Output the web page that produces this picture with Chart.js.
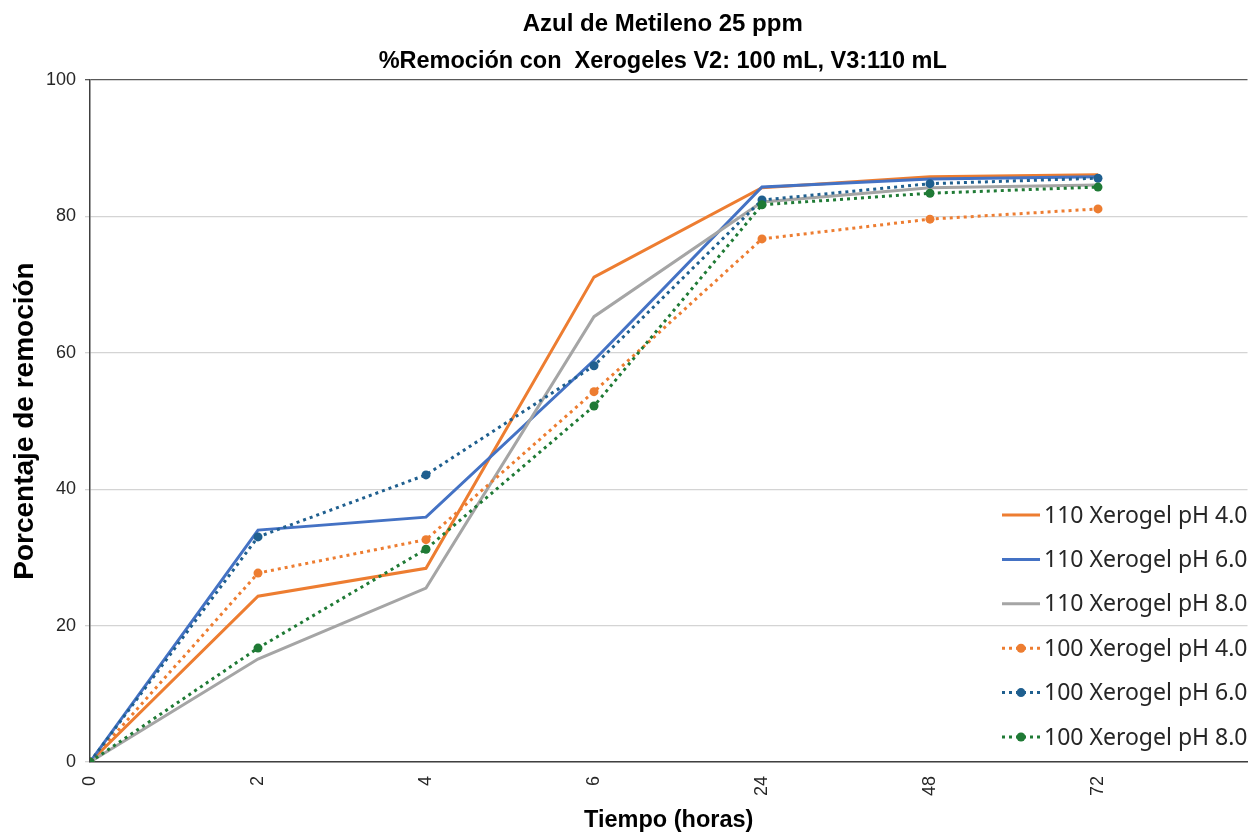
<!DOCTYPE html>
<html><head><meta charset="utf-8">
<script src="https://cdn.jsdelivr.net/npm/chart.js@4.4.0/dist/chart.umd.min.js"></script>
<style>html,body{margin:0;padding:0;background:#fff}#wrap{width:1252px;height:836px;position:relative}</style>
</head><body><div id="wrap"><canvas id="c" width="1252" height="836"></canvas></div>
<script>
const titleLines = ['Azul de Metileno 25 ppm', '%Remoción con  Xerogeles V2: 100 mL, V3:110 mL'];
const xTitle = 'Tiempo (horas)';
const yTitle = 'Porcentaje de remoción';
const timeLabels = ['0', '2', '4', '6', '24', '48', '72'];
const yTickValues = [0, 20, 40, 60, 80, 100];
const seriesNames = ['110 Xerogel pH 4.0', '110 Xerogel pH 6.0', '110 Xerogel pH 8.0', '100 Xerogel pH 4.0', '100 Xerogel pH 6.0', '100 Xerogel pH 8.0'];
const s110pH4 = [0, 24.3, 28.4, 71.1, 84.2, 85.8, 86.1];
const s110pH6 = [0, 34.0, 35.9, 58.9, 84.3, 85.5, 85.8];
const s110pH8 = [0, 15.1, 25.5, 65.3, 82.1, 84.2, 84.6];
const s100pH4 = [0, 27.7, 32.6, 54.3, 76.7, 79.6, 81.1];
const s100pH6 = [0, 33.0, 42.1, 58.1, 82.4, 84.8, 85.6];
const s100pH8 = [0, 16.7, 31.2, 52.2, 81.7, 83.4, 84.3];

const colors = ['#ED7D31', '#4472C4', '#A5A5A5', '#ED7D31', '#1F5F8F', '#1F7A35'];
const allSeries = [s110pH4, s110pH6, s110pH8, s100pH4, s100pH6, s100pH8];

const datasets = allSeries.map((s, i) => {
  const dotted = i >= 3;
  return {
    label: seriesNames[i],
    data: s.map((v, k) => ({x: k, y: v})),
    borderColor: colors[i],
    backgroundColor: colors[i],
    borderWidth: 3,
    borderDash: dotted ? [3, 4] : [],
    pointRadius: dotted ? 4.5 : 0,
    pointBorderWidth: 0,
    pointBackgroundColor: colors[i],
    tension: 0,
    fill: false,
    order: 10 - i
  };
});

const titlePlugin = {
  id: 'titles',
  afterDraw(chart) {
    const ctx = chart.ctx;
    const ca = chart.chartArea;
    const cx = (ca.left + ca.right) / 2 - 6;
    ctx.save();
    ctx.fillStyle = '#000';
    ctx.textAlign = 'center';
    ctx.textBaseline = 'middle';
    ctx.font = 'bold 24px "Liberation Sans", Arial, sans-serif';
    ctx.fillText(titleLines[0], cx, 24);
    ctx.font = 'bold 23.5px "Liberation Sans", Arial, sans-serif';
    ctx.fillText(titleLines[1], cx, 62);
    ctx.restore();
  }
};

const legendPlugin = {
  id: 'customLegend',
  afterDraw(chart) {
    const ctx = chart.ctx;
    const x0 = 1002, x1 = 1040, tx = 1044, y0 = 515, dy = 44.4;
    ctx.save();
    chart.data.datasets.forEach((ds, i) => {
      const y = y0 + i * dy;
      ctx.strokeStyle = ds.borderColor;
      ctx.lineWidth = 3;
      ctx.setLineDash(ds.borderDash || []);
      ctx.beginPath(); ctx.moveTo(x0, y); ctx.lineTo(x1, y); ctx.stroke();
      ctx.setLineDash([]);
      if (ds.pointRadius > 0) {
        ctx.fillStyle = ds.borderColor;
        ctx.beginPath(); ctx.arc((x0 + x1) / 2, y, 4.5, 0, Math.PI * 2); ctx.fill();
      }
      ctx.fillStyle = '#262626';
      ctx.font = '23px "Noto Sans", sans-serif';
      ctx.textAlign = 'left';
      ctx.textBaseline = 'middle';
      ctx.fillText(ds.label, tx, y + 1);
    });
    ctx.restore();
  }
};

new Chart(document.getElementById('c'), {
  type: 'line',
  data: { datasets },
  options: {
    responsive: false,
    devicePixelRatio: 1,
    animation: false,
    layout: { padding: { top: 80, right: 0, left: 0, bottom: 0 } },
    plugins: { legend: { display: false }, title: { display: false }, tooltip: { enabled: false } },
    scales: {
      x: {
        type: 'linear',
        min: 0,
        max: 6.89,
        afterBuildTicks(scale) { scale.ticks = timeLabels.map((t, i) => ({value: i})); },
        afterFit(scale) { scale.height = 74; },
        grid: { display: false, drawTicks: false },
        border: { display: true, color: '#404040', width: 1.5 },
        ticks: {
          autoSkip: false,
          maxRotation: 90,
          minRotation: 90,
          padding: 14,
          color: '#262626',
          font: { family: '"Liberation Sans", Arial, sans-serif', size: 18 },
          callback: (v) => timeLabels[v]
        },
        title: {
          display: true,
          text: xTitle,
          color: '#000',
          padding: { top: 0, bottom: 1 },
          font: { family: '"Liberation Sans", Arial, sans-serif', size: 23.5, weight: 'bold' }
        }
      },
      y: {
        min: 0,
        max: 100,
        afterBuildTicks(scale) { scale.ticks = yTickValues.map(v => ({value: v})); },
        afterFit(scale) { scale.width = 90; },
        grid: {
          color: (c) => (c.tick && c.tick.value === 100) ? '#595959' : '#d4d4d4',
          lineWidth: 1.3,
          tickLength: 5,
          drawTicks: true
        },
        border: { display: true, color: '#404040', width: 1.5 },
        ticks: {
          padding: 9,
          color: '#262626',
          font: { family: '"Liberation Sans", Arial, sans-serif', size: 18 }
        },
        title: {
          display: true,
          text: yTitle,
          color: '#000',
          padding: { top: 8, bottom: 0 },
          font: { family: '"Liberation Sans", Arial, sans-serif', size: 28, weight: 'bold' }
        }
      }
    }
  },
  plugins: [titlePlugin, legendPlugin]
});
</script>
</body></html>
